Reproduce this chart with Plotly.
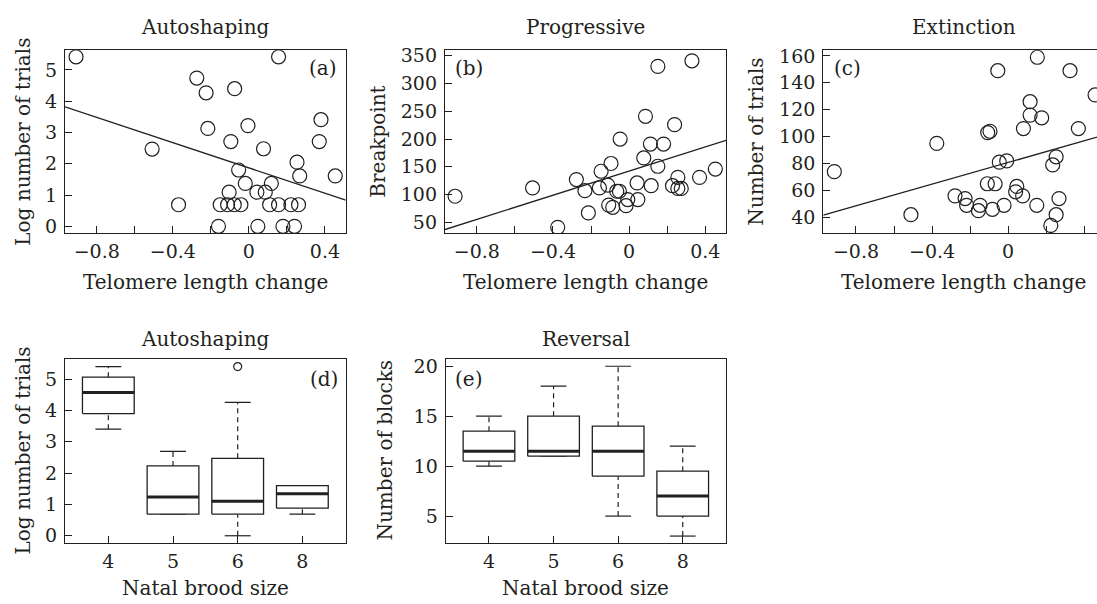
import plotly.graph_objects as go

W, H = 1097, 604
INK = "#231f20"
FONT = "DejaVu Serif"

# ---------------- data ----------------
# (a) Autoshaping: log number of trials vs telomere length change
a_x = [-0.909, 0.156, -0.274, -0.225, -0.075, -0.216, -0.005, -0.095, -0.509, 0.077,
       0.379, 0.370, 0.253, 0.267, 0.454, -0.054, -0.019, 0.118, -0.104, 0.042,
       0.086, -0.370, -0.151, -0.112, -0.077, -0.042, 0.109, 0.156, 0.221, 0.261,
       -0.160, 0.047, 0.179, 0.240]
a_y = [5.42, 5.42, 4.74, 4.27, 4.40, 3.13, 3.22, 2.71, 2.47, 2.48,
       3.41, 2.71, 2.05, 1.61, 1.61, 1.80, 1.37, 1.37, 1.09, 1.09,
       1.09, 0.69, 0.69, 0.69, 0.69, 0.69, 0.69, 0.69, 0.69, 0.69,
       0.0, 0.0, 0.0, 0.0]
a_fit = (1.867, -2.02)   # intercept, slope

# (b) Progressive: breakpoint
b_x = [-0.914, -0.507, -0.375, -0.277, -0.232, -0.214, -0.147, -0.156, -0.095, -0.112,
       -0.107, -0.086, -0.065, -0.051, -0.047, -0.016, -0.007, 0.046, 0.042, 0.077,
       0.086, 0.112, 0.116, 0.151, 0.151, 0.181, 0.239, 0.228, 0.256, 0.256,
       0.274, 0.330, 0.370, 0.453]
b_y = [97, 112, 41, 127, 107, 67, 142, 112, 156, 117,
       81, 77, 106, 106, 200, 80, 91, 91, 121, 166,
       241, 191, 116, 331, 151, 191, 226, 116, 131, 111,
       111, 341, 131, 146]
b_fit = (142.3, 108.9)

# (c) Extinction: number of trials
c_x = [-0.914, -0.511, -0.375, -0.279, -0.226, -0.218, -0.156, -0.147, -0.109, -0.107,
       -0.095, -0.082, -0.068, -0.054, -0.046, -0.007, -0.021, 0.046, 0.040, 0.077,
       0.081, 0.116, 0.116, 0.154, 0.151, 0.177, 0.225, 0.235, 0.253, 0.253,
       0.268, 0.326, 0.370, 0.458]
c_y = [74, 42, 95, 56, 54, 49, 45, 49, 65, 103,
       104, 46, 65, 149, 81, 82, 49, 63, 59, 56,
       106, 126, 116, 159, 49, 114, 34, 79, 85, 42,
       54, 149, 106, 131]
c_fit = (80.8, 40.2)

x_ticks = [-0.8, -0.6, -0.4, -0.2, 0.0, 0.2, 0.4]
x_ticktext = ["\u22120.8", "", "\u22120.4", "", "0", "", "0.4"]

# (d)/(e) box plots by natal brood size
brood = ["4", "5", "6", "8"]
d_low = [3.40, 0.69, 0.00, 0.69]
d_q1 = [3.90, 0.69, 0.69, 0.88]
d_med = [4.57, 1.24, 1.10, 1.34]
d_q3 = [5.06, 2.23, 2.47, 1.60]
d_high = [5.40, 2.69, 4.26, 1.60]
d_out_cat = ["6"]
d_out_val = [5.40]

e_low = [10, 11, 5, 3]
e_q1 = [10.5, 11, 9, 5]
e_med = [11.5, 11.5, 11.5, 7]
e_q3 = [13.5, 15, 14, 9.5]
e_high = [15, 18, 20, 12]

# ---------------- layout helpers ----------------
def xd(l, r):
    return [l / W, r / W]

def yd(t, b):
    return [1 - b / H, 1 - t / H]

fig = go.Figure()

marker = dict(symbol="circle-open", size=14, color=INK, line=dict(width=1.2, color=INK))

def scatter_panel(xs, ys, fit, xa, ya, xr):
    fig.add_trace(go.Scatter(x=xs, y=ys, mode="markers", marker=marker,
                             xaxis=xa, yaxis=ya, showlegend=False, hoverinfo="skip"))
    x0, x1 = xr
    fig.add_trace(go.Scatter(x=[x0, x1], y=[fit[0] + fit[1] * x0, fit[0] + fit[1] * x1],
                             mode="lines", line=dict(color=INK, width=1.3),
                             xaxis=xa, yaxis=ya, showlegend=False, hoverinfo="skip"))

XR_AB = [-0.967, 0.509]
XR_C = [-0.972, 0.468]
scatter_panel(a_x, a_y, a_fit, "x", "y", XR_AB)
scatter_panel(b_x, b_y, b_fit, "x2", "y2", XR_AB)
scatter_panel(c_x, c_y, c_fit, "x3", "y3", XR_C)

def box_panel(low, q1, med, q3, high, xa, ya):
    bx, by, mx, my, wx, wy, cx, cy = [], [], [], [], [], [], [], []
    hw, cw = 0.4, 0.2
    for i in range(len(brood)):
        p = i + 1
        bx += [p - hw, p + hw, p + hw, p - hw, p - hw, None]
        by += [q1[i], q1[i], q3[i], q3[i], q1[i], None]
        mx += [p - hw, p + hw, None]
        my += [med[i], med[i], None]
        wx += [p, p, None, p, p, None]
        wy += [q3[i], high[i], None, low[i], q1[i], None]
        cx += [p - cw, p + cw, None, p - cw, p + cw, None]
        cy += [high[i], high[i], None, low[i], low[i], None]
    common = dict(mode="lines", xaxis=xa, yaxis=ya, showlegend=False, hoverinfo="skip")
    fig.add_trace(go.Scatter(x=wx, y=wy, line=dict(color=INK, width=1.2, dash="5px,4px"), **common))
    fig.add_trace(go.Scatter(x=cx, y=cy, line=dict(color=INK, width=1.2), **common))
    fig.add_trace(go.Scatter(x=bx, y=by, line=dict(color=INK, width=1.3), fill="toself",
                             fillcolor="white", **common))
    fig.add_trace(go.Scatter(x=mx, y=my, line=dict(color=INK, width=3), **common))

box_panel(d_low, d_q1, d_med, d_q3, d_high, "x4", "y4")
box_panel(e_low, e_q1, e_med, e_q3, e_high, "x5", "y5")
fig.add_trace(go.Scatter(x=[brood.index(c) + 1 for c in d_out_cat], y=d_out_val, mode="markers",
                         marker=dict(symbol="circle-open", size=8, color=INK, line=dict(width=1.2, color=INK)),
                         xaxis="x4", yaxis="y4", showlegend=False, hoverinfo="skip"))

axis_common = dict(showline=True, linecolor=INK, linewidth=1.3, ticks="inside", ticklen=7,
                   tickwidth=1.2, tickcolor=INK, showgrid=False, zeroline=False,
                   tickfont=dict(family=FONT, size=19, color=INK), fixedrange=True)

def xaxis(dom, rng, vals, text, anchor, mirror=True):
    d = dict(axis_common)
    d.update(domain=dom, range=rng, tickvals=vals, ticktext=text, anchor=anchor,
             mirror=mirror, ticklabelstandoff=1)
    return d

def yaxis(dom, rng, vals, anchor, mirror=True):
    d = dict(axis_common)
    d.update(domain=dom, range=rng, tickvals=vals, anchor=anchor, mirror=mirror,
             ticklabelstandoff=3)
    return d

row1 = yd(45, 230.7)
row2 = yd(359.3, 546)
fig.update_layout(
    width=W, height=H, margin=dict(l=0, r=0, t=0, b=0),
    paper_bgcolor="white", plot_bgcolor="white",
    xaxis=xaxis(xd(65, 345.7), XR_AB, x_ticks, x_ticktext, "y"),
    yaxis=yaxis(row1, [-0.21, 5.63], [0, 1, 2, 3, 4, 5], "x"),
    xaxis2=xaxis(xd(445, 726), XR_AB, x_ticks, x_ticktext, "y2"),
    yaxis2=yaxis(row1, [31, 360], [50, 100, 150, 200, 250, 300, 350], "x2"),
    xaxis3=xaxis(xd(823.3, 1097), XR_C, x_ticks, x_ticktext, "y3"),
    yaxis3=yaxis(row1, [28.5, 164.2], [40, 60, 80, 100, 120, 140, 160], "x3", mirror=False),
    xaxis4=xaxis(xd(65, 345.7), [0.33, 4.67], [1, 2, 3, 4], brood, "y4"),
    yaxis4=yaxis(row2, [-0.23, 5.63], [0, 1, 2, 3, 4, 5], "x4"),
    xaxis5=xaxis(xd(445.7, 726), [0.33, 4.67], [1, 2, 3, 4], brood, "y5"),
    yaxis5=yaxis(row2, [2.31, 20.69], [5, 10, 15, 20], "x5"),
)

def ann(text, px, py, size=20, angle=0, xanchor="center"):
    fig.add_annotation(text=text, x=px / W, y=1 - py / H, xref="paper", yref="paper",
                       showarrow=False, textangle=angle, xanchor=xanchor, yanchor="middle",
                       font=dict(family=FONT, size=size, color=INK))

# panel titles
ann("Autoshaping", 205.4, 21)
ann("Progressive", 585.5, 21)
ann("Extinction", 963.7, 21)
ann("Autoshaping", 205.4, 339)
ann("Reversal", 585.9, 339)
# x titles
ann("Telomere length change", 205.4, 281)
ann("Telomere length change", 585.5, 281)
ann("Telomere length change", 963.7, 281)
ann("Natal brood size", 205.4, 592)
ann("Natal brood size", 585.9, 592)
# y titles
ann("Log number of trials", 23, 138, angle=-90)
ann("Breakpoint", 378, 138, angle=-90)
ann("Number of trials", 756, 138, angle=-90)
ann("Log number of trials", 23, 452, angle=-90)
ann("Number of blocks", 385, 452, angle=-90)
# panel labels
ann("(a)", 323, 63)
ann("(b)", 469, 63)
ann("(c)", 847, 63)
ann("(d)", 324, 379)
ann("(e)", 468, 379)

fig.write_html("out.html")
